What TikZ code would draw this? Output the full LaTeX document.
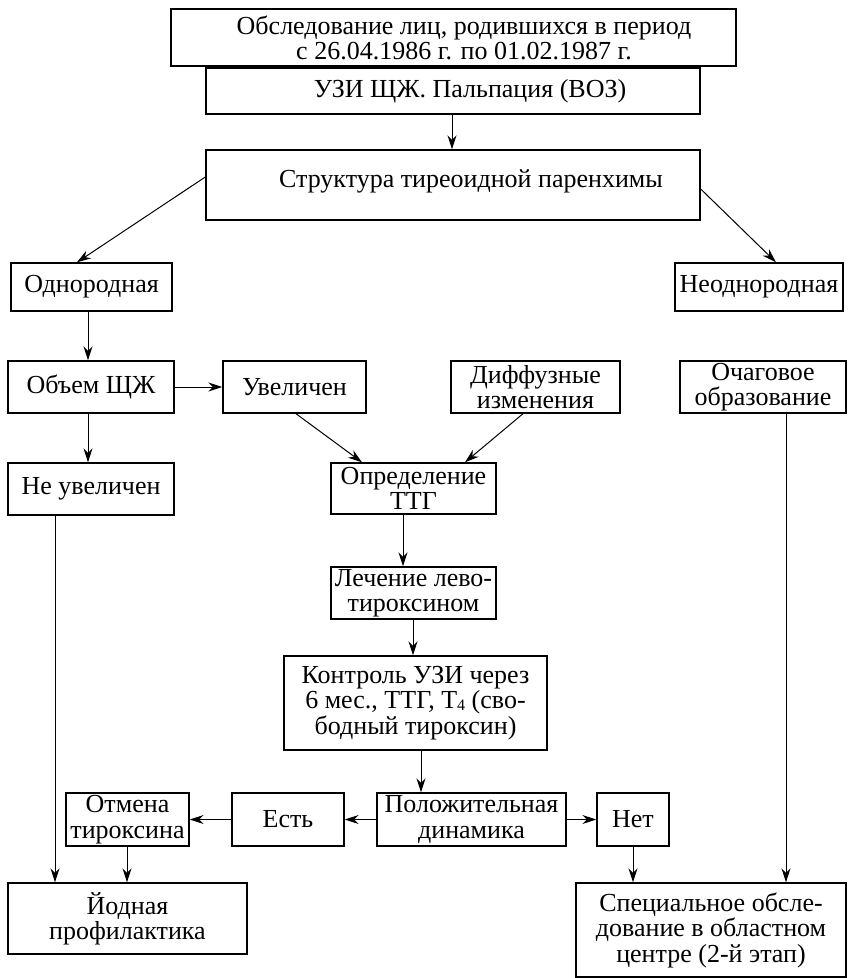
\documentclass[tikz,border=0pt]{standalone}
\usepackage{fontspec}
\setmainfont{Liberation Serif}
\usetikzlibrary{arrows.meta}
\begin{document}
\begin{tikzpicture}[x=1pt,y=-1pt,
  box/.style={draw, line width=1.4pt, inner sep=0pt, align=center},
  txt/.style={inner sep=0pt, align=center},
  arr/.style={line width=1pt, -{Stealth[length=14pt,width=9pt]}},
  every node/.style={font=\fontsize{26}{25.5}\selectfont}]
\useasboundingbox (0,0) rectangle (847,978);
% boxes
\node[box, minimum width=565, minimum height=57] (b1) at (453.5,37.5) {};
\node[txt] (t1) at (464,38) {Обследование лиц, родившихся в период\\с 26.04.1986 г. по 01.02.1987 г.};
\node[box, minimum width=494, minimum height=46] (b2) at (453,91) {};
\node[txt] (t2) at (470,91) {УЗИ ЩЖ. Пальпация (ВОЗ)};
\node[box, minimum width=494, minimum height=70] (b3) at (453,185) {};
\node[txt] (t3) at (471,181) {Структура тиреоидной паренхимы};
\node[box, minimum width=161, minimum height=48] (b4) at (91.5,287) {Однородная};
\node[box, minimum width=168, minimum height=48] (b5) at (759,287) {Неоднородная};
\node[box, minimum width=166, minimum height=52] (b6) at (91,387) {Объем ЩЖ};
\node[box, minimum width=143, minimum height=52] (b7) at (294.5,387) {Увеличен};
\node[box, minimum width=169, minimum height=52] (b8) at (535.5,387) {Диффузные\\изменения};
\node[box, minimum width=166, minimum height=52] (b9) at (763,387) {Очаговое\\образование};
\node[box, minimum width=166, minimum height=52] (b10) at (91,489) {Не увеличен};
\node[box, minimum width=165, minimum height=51] (b11) at (413.5,488.5) {Определение\\ТТГ};
\node[box, minimum width=165, minimum height=52] (b12) at (413.5,593) {Лечение лево-\\тироксином};
\node[box, minimum width=263, minimum height=94] (b13) at (415.5,703) {Контроль УЗИ через\\6 мес., ТТГ, Т{\fontsize{16}{16}\selectfont\raisebox{-2pt}{4}} (сво-\\бодный тироксин)};
\node[box, minimum width=189, minimum height=53] (b14) at (471.5,819.5) {Положительная\\динамика};
\node[box, minimum width=112, minimum height=53] (b15) at (288,819.5) {Есть};
\node[box, minimum width=123, minimum height=53] (b16) at (127.5,819.5) {Отмена\\тироксина};
\node[box, minimum width=72, minimum height=53] (b17) at (633,819.5) {Нет};
\node[box, minimum width=239, minimum height=71] (b18) at (127.5,918.5) {Йодная\\профилактика};
\node[box, minimum width=270, minimum height=94] (b19) at (711,930) {Специальное обсле-\\дование в областном\\центре (2-й этап)};
% connectors
\draw[arr] (b2.south -| 452,0) -- (b3.north -| 452,0);
\draw[arr] (b3.west |- 0,177) -- (b4.north -| 77,0);
\draw[arr] (b3.east |- 0,189) -- (b5.north -| 776,0);
\draw[arr] (b4.south -| 88,0) -- (b6.north -| 88,0);
\draw[arr] (b6.east) -- (b7.west);
\draw[arr] (b6.south -| 88,0) -- (b10.north -| 88,0);
\draw[arr] (b7.south -| 296,0) -- (b11.north -| 362,0);
\draw[arr] (b8.south -| 523,0) -- (b11.north -| 465,0);
\draw[arr] (b11.south -| 403,0) -- (b12.north -| 403,0);
\draw[arr] (b12.south -| 413,0) -- (b13.north -| 413,0);
\draw[arr] (b13.south -| 421,0) -- (b14.north -| 421,0);
\draw[arr] (b14.west) -- (b15.east);
\draw[arr] (b15.west) -- (b16.east);
\draw[arr] (b14.east) -- (b17.west);
\draw[arr] (b16.south -| 127,0) -- (b18.north -| 127,0);
\draw[arr] (b17.south -| 633,0) -- (b19.north -| 633,0);
\draw[arr] (b10.south -| 55,0) -- (b18.north -| 55,0);
\draw[arr] (b9.south -| 786,0) -- (b19.north -| 786,0);
\end{tikzpicture}
\end{document}
